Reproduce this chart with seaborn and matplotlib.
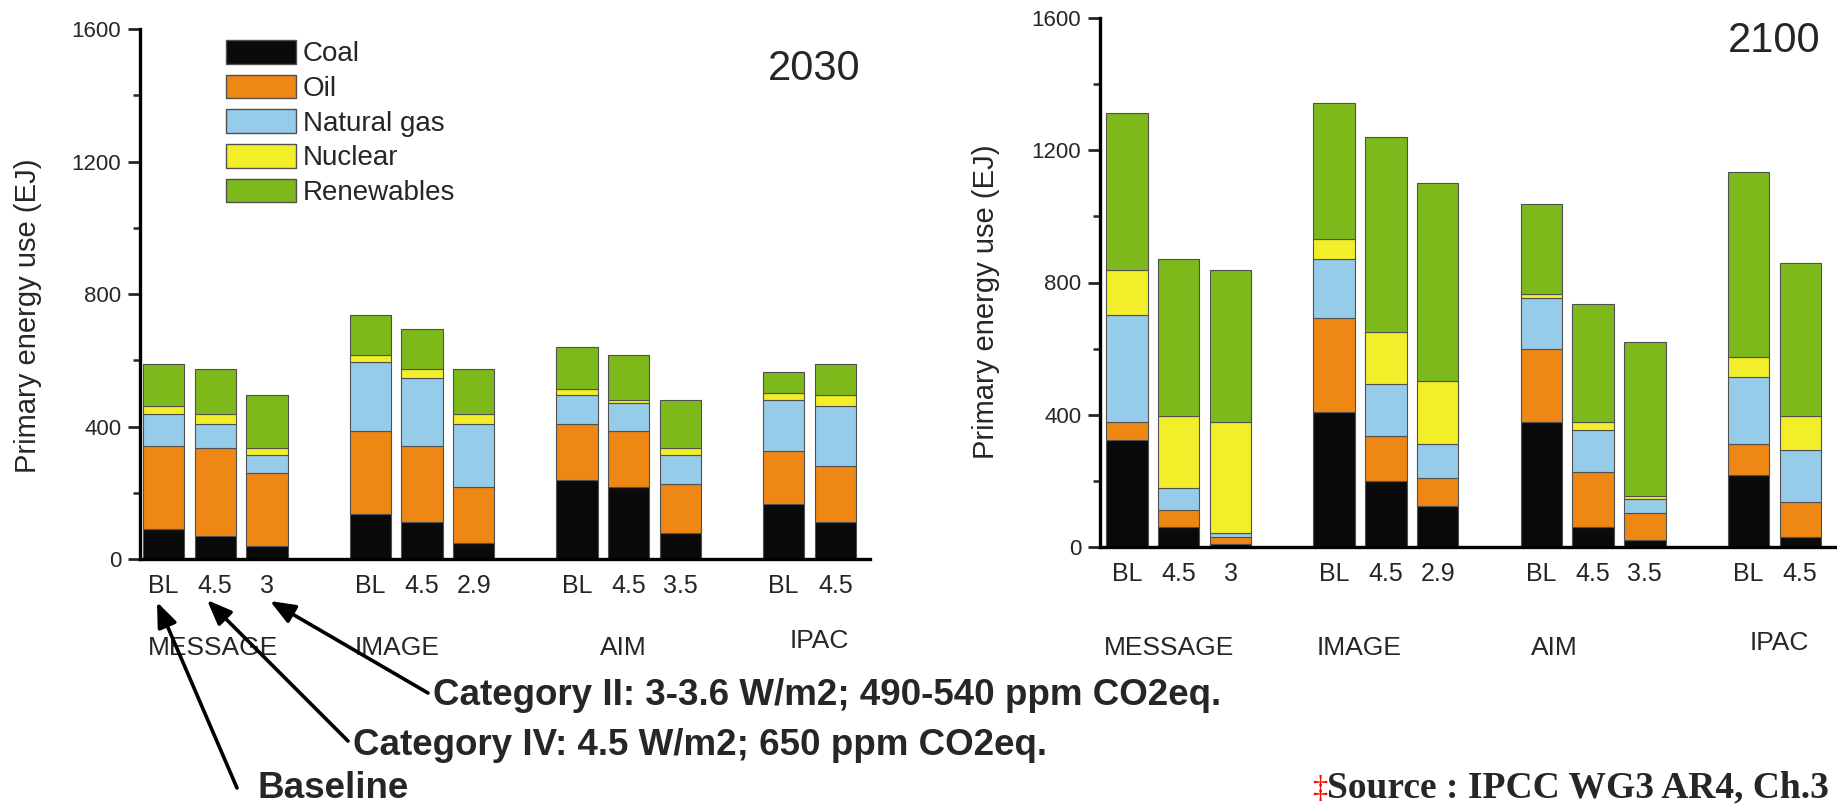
import matplotlib
matplotlib.use('Agg')
from matplotlib import pyplot as plt
from matplotlib.patches import Patch
from matplotlib.ticker import MultipleLocator
import seaborn as sns
import pandas as pd

W, H = 1837, 807

sources = ['Coal', 'Oil', 'Natural gas', 'Nuclear', 'Renewables']
models = ['MESSAGE', 'IMAGE', 'AIM', 'IPAC']
scenarios = [['BL', '4.5', '3'], ['BL', '4.5', '2.9'], ['BL', '4.5', '3.5'], ['BL', '4.5']]

# 2030, EJ per source, one value per bar (MESSAGE BL ... IPAC 4.5)
coal_2030 = [92, 70, 40, 135, 112, 49, 239, 217, 79, 165, 112]
oil_2030 = [250, 264, 219, 250, 230, 168, 169, 168, 148, 160, 170]
gas_2030 = [95, 74, 54, 211, 204, 191, 86, 85, 86, 155, 179]
nuclear_2030 = [24, 29, 21, 21, 29, 29, 18, 10, 21, 22, 33]
renew_2030 = [129, 138, 161, 119, 119, 138, 127, 137, 146, 63, 94]

# 2100
coal_2100 = [325, 60, 10, 407, 199, 124, 377, 60, 20, 219, 31]
oil_2100 = [52, 52, 19, 285, 137, 85, 222, 168, 84, 94, 105]
gas_2100 = [324, 65, 14, 179, 156, 104, 155, 126, 41, 202, 157]
nuclear_2100 = [136, 220, 334, 61, 158, 188, 10, 23, 10, 61, 104]
renew_2100 = [475, 473, 461, 412, 589, 599, 274, 357, 464, 557, 461]

colors = {'Coal': '#0a0a0a', 'Oil': '#ef8715', 'Natural gas': '#96cbe9',
          'Nuclear': '#f2ee2a', 'Renewables': '#7db91b'}


def build_frame(values):
    rows = []
    k = 0
    for g, scen in enumerate(scenarios):
        for j, s in enumerate(scen):
            for src, vals in zip(sources, values):
                rows.append({'pos': g * 4 + j, 'scenario': s, 'source': src, 'energy': vals[k]})
            k += 1
    return pd.DataFrame(rows)


df_2030 = build_frame([coal_2030, oil_2030, gas_2030, nuclear_2030, renew_2030])
df_2100 = build_frame([coal_2100, oil_2100, gas_2100, nuclear_2100, renew_2100])

sns.set_style('ticks')
plt.rcParams['font.family'] = ['Liberation Sans', 'DejaVu Sans']

fig = plt.figure(figsize=(W / 100, H / 100), dpi=100)


def fx(x):
    return x / W


def fy(y):
    return 1 - y / H


def draw_panel(ax, df, xlim, year, year_xy, label_x, label_y):
    sns.histplot(data=df, x='pos', weights='energy', hue='source', hue_order=sources[::-1],
                 multiple='stack', discrete=True, shrink=0.8, palette=colors, alpha=1,
                 edgecolor='#505050', linewidth=0.8, legend=False, ax=ax)
    ax.set_xlim(*xlim)
    ax.set_ylim(0, 1600)
    ax.set_xlabel('')
    ax.set_ylabel('')
    ticks = df.drop_duplicates('pos')
    ax.set_xticks(ticks['pos'].tolist(), ticks['scenario'].tolist())
    ax.set_yticks([0, 400, 800, 1200, 1600])
    ax.yaxis.set_minor_locator(MultipleLocator(200))
    ax.tick_params(axis='y', which='major', length=8.5, width=2, labelsize=16, pad=5)
    ax.tick_params(axis='y', which='minor', length=5, width=1.8)
    ax.tick_params(axis='x', length=0, labelsize=18, pad=11)
    sns.despine(ax=ax)
    for side in ['left', 'bottom']:
        ax.spines[side].set_linewidth(2.4)
        ax.spines[side].set_color('black')
    fig.text(fx(year_xy[0]), fy(year_xy[1]), year, ha='right', va='baseline', fontsize=30)
    for name, x, y in zip(models, label_x, label_y):
        ax.annotate(name, xy=(x, fy(y)), xycoords=('data', 'figure fraction'),
                    ha='center', va='center', fontsize=19, annotation_clip=False)


ax1 = fig.add_axes([fx(140), fy(559), 730 / W, 530 / H])
draw_panel(ax1, df_2030, (-0.455, 13.67), '2030', (860, 80),
           [0.96, 4.52, 8.89, 12.69], [648, 648, 648, 641])

ax2 = fig.add_axes([fx(1100), fy(547), 737 / W, 529 / H])
draw_panel(ax2, df_2100, (-0.52, 13.71), '2100', (1820, 52),
           [0.82, 4.48, 8.26, 12.6], [648, 648, 648, 643])

fig.text(fx(28), fy(316), 'Primary energy use (EJ)', rotation=90, ha='center', va='center', fontsize=21)
fig.text(fx(986), fy(302), 'Primary energy use (EJ)', rotation=90, ha='center', va='center', fontsize=21)

handles = [Patch(facecolor=colors[s], edgecolor='#505050', linewidth=1, label=s) for s in sources]
ax1.legend(handles=handles, loc='upper left', bbox_to_anchor=(fx(226), fy(40)),
           bbox_transform=fig.transFigure, frameon=False, fontsize=20,
           handlelength=2.52, handleheight=0.94, handletextpad=0.25,
           labelspacing=0.26, borderpad=0, borderaxespad=0)

# annotations pointing at the scenario labels
arrows = [((157, 602), (237, 788)), ((207, 600), (348, 741)), ((270, 601), (428, 693))]
for head, tail in arrows:
    ax1.annotate('', xy=(fx(head[0]), fy(head[1])), xytext=(fx(tail[0]), fy(tail[1])),
                 xycoords='figure fraction', textcoords='figure fraction', annotation_clip=False,
                 arrowprops=dict(arrowstyle='-|>,head_length=0.75,head_width=0.3', lw=2.6,
                                 color='black', mutation_scale=20, shrinkA=0, shrinkB=0))

fig.text(fx(433), fy(705), 'Category II: 3-3.6 W/m2; 490-540 ppm CO2eq.', fontsize=26.5,
         fontweight='bold', ha='left', va='baseline')
fig.text(fx(353), fy(755), 'Category IV: 4.5 W/m2; 650 ppm CO2eq.', fontsize=26.5,
         fontweight='bold', ha='left', va='baseline')
fig.text(fx(258), fy(798), 'Baseline', fontsize=26.5, fontweight='bold', ha='left', va='baseline')

fig.text(fx(1312), fy(797), '\u2021', color='red', fontsize=22, family=['Liberation Serif', 'DejaVu Serif'],
         ha='left', va='baseline')
fig.text(fx(1327), fy(797), 'Source : IPCC WG3 AR4, Ch.3', fontsize=27, fontweight='bold',
         family=['Liberation Serif', 'DejaVu Serif'], ha='left', va='baseline')

fig.savefig('out.png', dpi=100)
